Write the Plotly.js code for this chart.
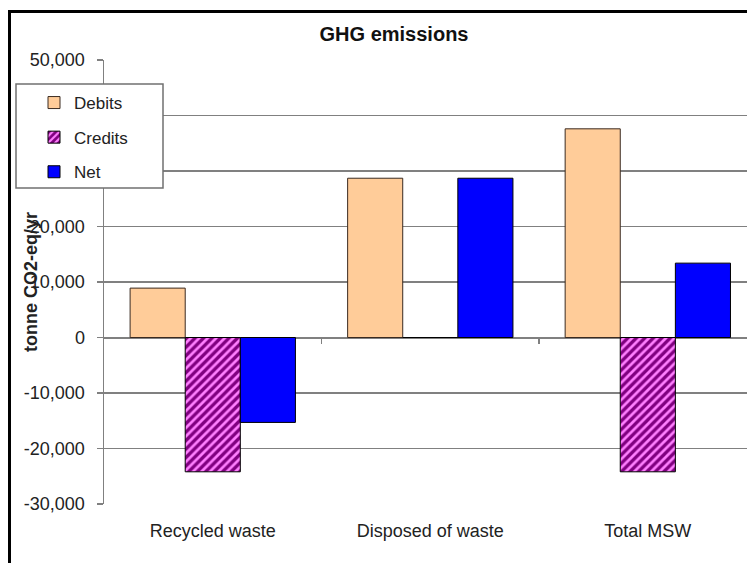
<!DOCTYPE html>
<html>
<head>
<meta charset="utf-8">
<script src="https://cdn.plot.ly/plotly-3.0.1.min.js"></script>
<style>
  html, body { margin: 0; padding: 0; background: #fff; overflow: hidden; }
  #wrap { position: relative; width: 747px; height: 563px; overflow: hidden; }
  #chart { position: absolute; left: 0; top: 0; width: 747px; height: 563px; }
  #frame { position: absolute; left: 8px; top: 10px; right: -10px; bottom: -10px;
           border-top: 3px solid #000; border-left: 3px solid #000; pointer-events: none; }
</style>
</head>
<body>
<div id="wrap">
  <div id="chart"></div>
  <div id="frame"></div>
</div>
<script>
// ---- data ----
const categories = ['Recycled waste', 'Disposed of waste', 'Total MSW'];
const debits  = [8900, 28700, 37600];
const credits = [-24200, 0, -24200];
const net     = [-15300, 28700, 13400];
const seriesNames = ['Debits', 'Credits', 'Net'];
const yTickVals = [-30000, -20000, -10000, 0, 10000, 20000, 30000, 40000, 50000];
const yTickText = ['-30,000', '-20,000', '-10,000', '0', '10,000', '20,000', '30,000', '40,000', '50,000'];
const boundaryTicks = [0.5, 1.5];

const FONT = 'Liberation Sans, Arial, sans-serif';
const GRID = '#808080';

const traces = [
  { type: 'bar', name: seriesNames[0], x: categories, y: debits, legendgroup: 'a',
    marker: { color: '#FFCC99', line: { color: '#3a2a20', width: 1 } }, hoverinfo: 'skip' },
  { type: 'bar', name: seriesNames[1], x: categories, y: credits, legendgroup: 'b',
    marker: { color: '#800080', line: { color: '#000', width: 1 },
              pattern: { shape: '/', fgcolor: '#ff7fff', bgcolor: '#800080', size: 6, solidity: 0.45 } },
    hoverinfo: 'skip' },
  { type: 'bar', name: seriesNames[2], x: categories, y: net, legendgroup: 'c',
    marker: { color: '#0000FF', line: { color: '#000', width: 1 } }, hoverinfo: 'skip' },
  { type: 'scatter', x: [], y: [], xaxis: 'x2', yaxis: 'y', showlegend: false, hoverinfo: 'skip' }
];

const plotL = 104, plotR = 747, plotT = 60, plotB = 504;
const pw = plotR - plotL, ph = plotB - plotT;
const px = v => (v - plotL) / pw;
const py = v => (plotB - v) / ph;

const layout = {
  width: 747, height: 563,
  margin: { l: plotL, r: 747 - plotR, t: plotT, b: 563 - plotB, pad: 0 },
  paper_bgcolor: '#fff', plot_bgcolor: '#fff',
  font: { family: FONT, size: 18, color: '#222' },
  title: { text: '<b>GHG emissions</b>', font: { family: FONT, size: 20, color: '#111' },
           xref: 'container', x: 394 / 747, xanchor: 'center',
           yref: 'container', y: 1 - 34 / 563, yanchor: 'middle' },
  barmode: 'group', bargap: 0.24, bargroupgap: 0,
  showlegend: true,
  legend: { x: px(34), xanchor: 'left', y: py(85), yanchor: 'top',
            bgcolor: 'rgba(0,0,0,0)', borderwidth: 0,
            font: { family: FONT, size: 17, color: '#222' },
            traceorder: 'grouped', tracegroupgap: 9.5, itemwidth: 30 },
  xaxis: { type: 'category', range: [-0.5, 2.456], showgrid: false, zeroline: false,
           showline: false, ticks: '', ticklabelstandoff: 14,
           tickfont: { family: FONT, size: 18, color: '#222' }, fixedrange: true },
  xaxis2: { overlaying: 'x', anchor: 'free', position: 0.375, range: [-0.5, 2.456],
            tickmode: 'array', tickvals: boundaryTicks, ticks: 'outside', ticklen: 5,
            tickcolor: GRID, tickwidth: 1.5, showticklabels: false, showgrid: false,
            zeroline: false, showline: false, side: 'bottom', fixedrange: true },
  yaxis: { range: [-30000, 50000], tickmode: 'array', tickvals: yTickVals, ticktext: yTickText,
           showgrid: true, gridcolor: GRID, gridwidth: 1.5,
           zeroline: true, zerolinecolor: GRID, zerolinewidth: 2,
           showline: true, linecolor: GRID, linewidth: 1.5,
           ticks: 'outside', ticklen: 6, tickcolor: GRID, tickwidth: 1.5,
           ticklabelstandoff: 8,
           tickfont: { family: FONT, size: 18, color: '#222' }, fixedrange: true },
  shapes: [
    { type: 'rect', xref: 'paper', yref: 'paper', layer: 'above',
      x0: px(16), x1: px(163), y0: py(188), y1: py(84),
      fillcolor: '#fff', line: { color: '#707070', width: 1.5 } }
  ],
  annotations: [
    { text: '<b>tonne CO2-eq/yr</b>', xref: 'paper', yref: 'paper',
      x: px(31), y: 0.5, xanchor: 'center', yanchor: 'middle', textangle: -90,
      showarrow: false, font: { family: FONT, size: 18, color: '#222' } }
  ]
};

Plotly.newPlot('chart', traces, layout, { displayModeBar: false, staticPlot: true });
</script>
</body>
</html>
